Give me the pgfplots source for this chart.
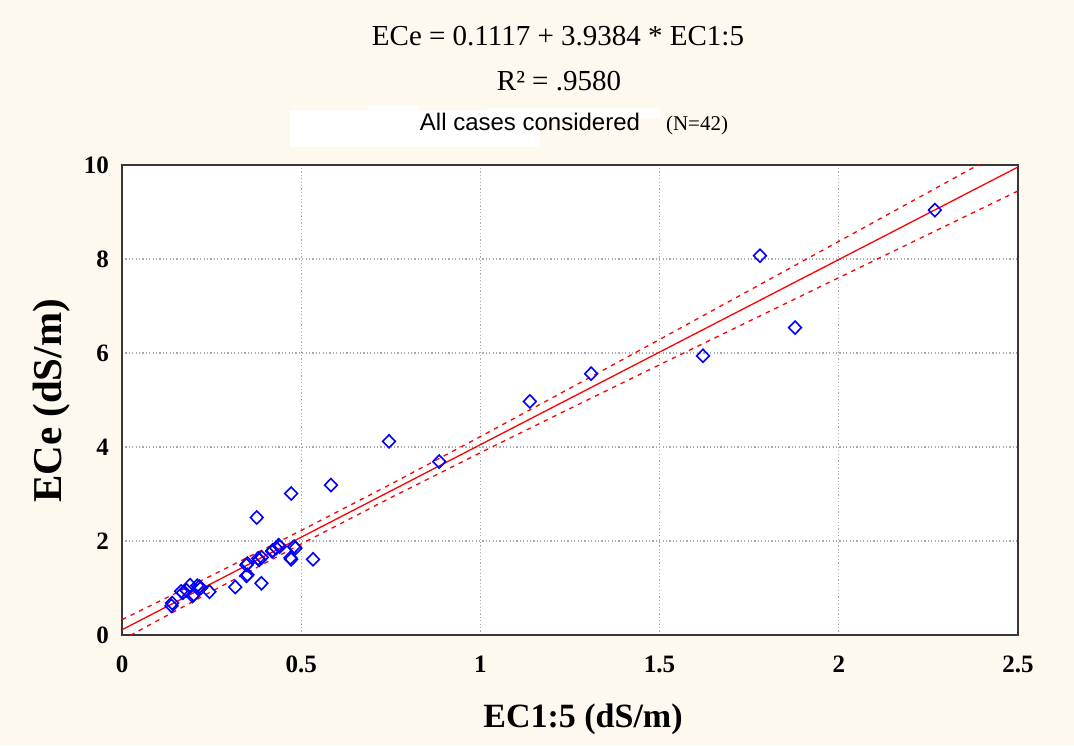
\documentclass[border=0pt]{standalone}
\usepackage{pgfplots}
\pgfplotsset{compat=1.18}
\usepackage{fontspec}
\setmainfont{Liberation Serif}
\newfontfamily\sansf{Liberation Sans}
\definecolor{cream}{RGB}{254,249,239}
\definecolor{framec}{RGB}{55,55,55}
\begin{document}
\begin{tikzpicture}
\fill[cream] (0pt,0pt) rectangle (1074pt,745pt);
\useasboundingbox (0pt,0pt) rectangle (1074pt,745pt);
\fill[white] (290pt,598pt) rectangle (540pt,635pt);
\fill[white] (368pt,630pt) rectangle (418pt,640pt);
\fill[white] (488pt,627pt) rectangle (660pt,637pt);
\node[font=\fontsize{29}{29}\selectfont, anchor=base] at (558pt,699pt) {ECe = 0.1117 + 3.9384 * EC1:5};
\node[font=\fontsize{29}{29}\selectfont, anchor=base] at (559pt,654pt) {R² = .9580};
\node[font=\sansf\fontsize{24}{24}\selectfont, anchor=base] at (530pt,614pt) {All cases considered};
\node[font=\fontsize{21}{21}\selectfont, anchor=base] at (697pt,614pt) {(N=42)};
\node[font=\bfseries\fontsize{34}{34}\selectfont, anchor=base] at (583pt,18pt) {EC1:5 (dS/m)};
\node[font=\bfseries\fontsize{41}{41}\selectfont, anchor=base, rotate=90] at (61pt,344pt) {ECe (dS/m)};
\begin{axis}[
  at={(122pt,110pt)}, anchor=south west,
  scale only axis, width=896pt, height=470pt,
  xmin=0, xmax=2.5, ymin=0, ymax=10,
  xtick={0,0.5,1,1.5,2,2.5},
  ytick={0,2,4,6,8,10},
  major tick length=0pt,
  /pgf/number format/assume math mode=true,
  tick label style={font=\bfseries\fontsize{25}{25}\selectfont, inner sep=0pt},
  xticklabel style={anchor=north, yshift=-21pt},
  yticklabel style={anchor=east, xshift=-13pt},
  grid=major,
  major grid style={gray!65, line width=1.2pt, dash pattern=on 1.2pt off 2.2pt},
  axis line style={framec, line width=2.2pt},
  axis background/.style={fill=white},
]
\addplot[red, line width=1.3pt] coordinates {(0,0.1117) (2.5,9.9577)};
\addplot[red, line width=1.3pt, dash pattern=on 4.5pt off 5pt] coordinates {
(0,0.3256) (0.25,1.2663) (0.5,2.2244) (0.75,3.2095) (1.0,4.2216) (1.25,5.2505)
(1.5,6.2881) (1.75,7.3301) (2.0,8.3746) (2.25,9.4206) (2.5,10.4675)};
\addplot[red, line width=1.3pt, dash pattern=on 4.5pt off 5pt] coordinates {
(0,-0.1022) (0.25,0.9263) (0.5,1.9374) (0.75,2.9215) (1.0,3.8786) (1.25,4.8189)
(1.5,5.7505) (1.75,6.6777) (2.0,7.6024) (2.25,8.5256) (2.5,9.4479)};
\addplot[only marks, blue, mark=diamond, mark size=6.5pt,
  mark options={line width=1.6pt, xscale=1.3, fill=none}] coordinates {
(0.138,0.62) (0.140,0.68) (0.165,0.93) (0.170,0.90) (0.180,0.95) (0.190,1.06)
(0.197,0.83) (0.200,0.86) (0.210,1.05) (0.216,1.03) (0.220,1.00) (0.244,0.92)
(0.316,1.02) (0.347,1.26) (0.350,1.28) (0.347,1.49) (0.350,1.52) (0.376,2.50)
(0.383,1.60) (0.380,1.63) (0.390,1.65) (0.389,1.10) (0.419,1.78) (0.420,1.80)
(0.430,1.85) (0.437,1.91) (0.440,1.88) (0.472,3.01) (0.472,1.61) (0.470,1.64)
(0.484,1.85) (0.480,1.88) (0.533,1.61) (0.583,3.19) (0.745,4.12) (0.885,3.69)
(1.138,4.97) (1.309,5.56) (1.621,5.94) (1.780,8.07) (1.878,6.54) (2.268,9.04)};
\end{axis}
\end{tikzpicture}
\end{document}
